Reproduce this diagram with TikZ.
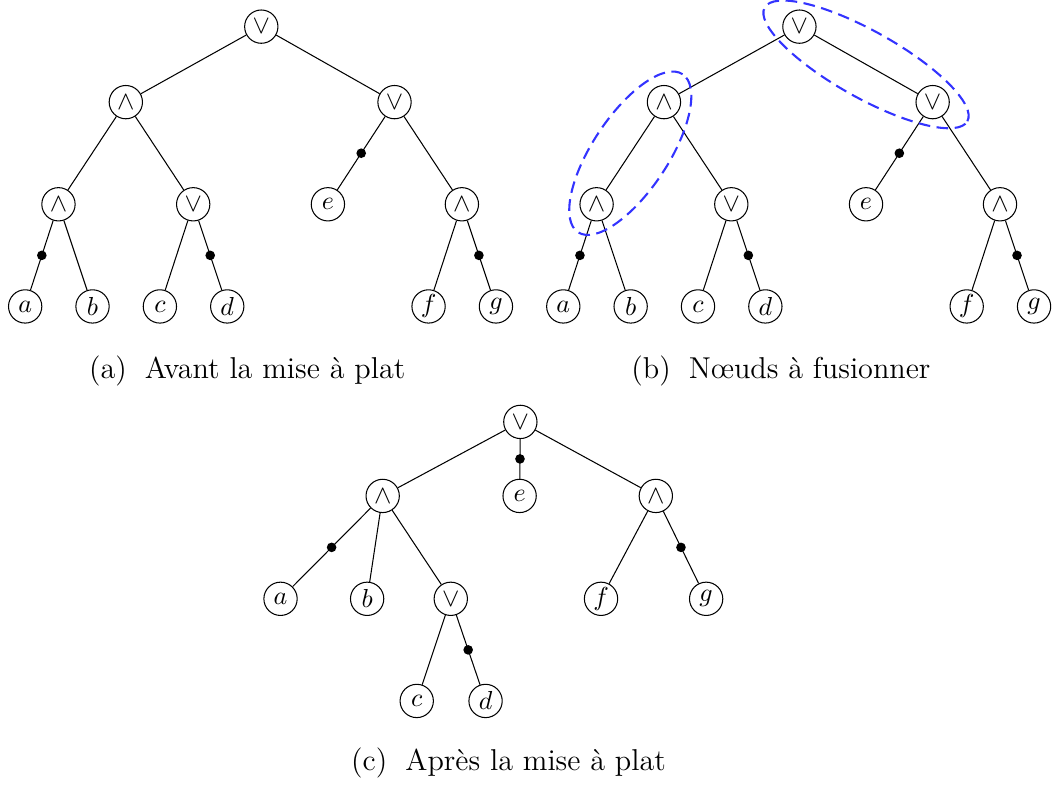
\documentclass[tikz,border=0pt]{standalone}
\usetikzlibrary{calc}
\begin{document}
\begin{tikzpicture}[gate/.style={draw,circle,minimum size=0.45cm,inner sep=0},
        dot/.style={circle,fill,inner sep=0,minimum size=1.3mm},
        fusebox/.style={draw=blue!80,thick,dash pattern=on 4.5pt off 2.5pt},
        legend/.style={anchor=base,font=\fontsize{11.6}{14}\selectfont}]
    \useasboundingbox (0,0) rectangle (14.28,10.62);
    % (a) and (b): same tree
    \foreach \p/\dx in {a/0,b/7.27}{
    \begin{scope}[xshift=\dx cm, name prefix=\p-]
        \node[gate] at (3.53,10.26) (root) {$\vee$};
        \node[gate] at (1.70,9.24) (l) {$\wedge$};
        \node[gate] at (5.33,9.24) (r) {$\vee$};
        \node[gate] at (0.79,7.86) (ll) {$\wedge$};
        \node[gate] at (2.61,7.86) (lr) {$\vee$};
        \node[gate] at (4.43,7.86) (e) {$e$};
        \node[gate] at (6.24,7.86) (rr) {$\wedge$};
        \node[gate] at (0.34,6.48) (a) {$a$};
        \node[gate] at (1.25,6.48) (b) {$b$};
        \node[gate] at (2.16,6.48) (c) {$c$};
        \node[gate] at (3.07,6.48) (d) {$d$};
        \node[gate] at (5.79,6.48) (f) {$f$};
        \node[gate] at (6.70,6.48) (g) {$g$};
        \draw (root) -- (l) (root) -- (r);
        \draw (l) -- (ll) (l) -- (lr);
        \draw (r) -- node[dot] {} (e) (r) -- (rr);
        \draw (ll) -- node[dot] {} (a) (ll) -- (b);
        \draw (lr) -- (c) (lr) -- node[dot] {} (d);
        \draw (rr) -- (f) (rr) -- node[dot] {} (g);
    \end{scope}
    }
    \node[legend] at (3.34,5.50) (capa) {(a)\hspace{0.6em}Avant la mise à plat};
    \node[legend] at (10.55,5.50) (capb) {(b)\hspace{0.6em}Nœuds à fusionner};
    % nodes to merge
    \coordinate (m1) at ($(b-l)!0.5!(b-ll)$);
    \coordinate (m2) at ($(b-root)!0.5!(b-r)$);
    \draw[fusebox,rotate around={56.5:(m1)}] (m1) ellipse (1.28cm and 0.51cm);
    \draw[fusebox,rotate around={-29.3:(m2)}] (m2) ellipse (1.57cm and 0.45cm);
    % (c)
    \node[gate] at (7.03,4.92) (root) {$\vee$};
    \node[gate] at (5.17,3.92) (l) {$\wedge$};
    \node[gate] at (7.02,3.92) (e) {$e$};
    \node[gate] at (8.86,3.92) (r) {$\wedge$};
    \node[gate] at (3.79,2.53) (a) {$a$};
    \node[gate] at (4.96,2.53) (b) {$b$};
    \node[gate] at (6.09,2.53) (lr) {$\vee$};
    \node[gate] at (8.12,2.53) (f) {$f$};
    \node[gate] at (9.54,2.53) (g) {$g$};
    \node[gate] at (5.63,1.15) (c) {$c$};
    \node[gate] at (6.56,1.15) (d) {$d$};
    \draw (root) -- (l) (root) -- node[dot] {} (e) (root) -- (r);
    \draw (l) -- node[dot] {} (a) (l) -- (b) (l) -- (lr);
    \draw (lr) -- (c) (lr) -- node[dot] {} (d);
    \draw (r) -- (f) (r) -- node[dot] {} (g);
    \node[legend] at (6.87,0.21) (capc) {(c)\hspace{0.6em}Après la mise à plat};
\end{tikzpicture}
\end{document}
